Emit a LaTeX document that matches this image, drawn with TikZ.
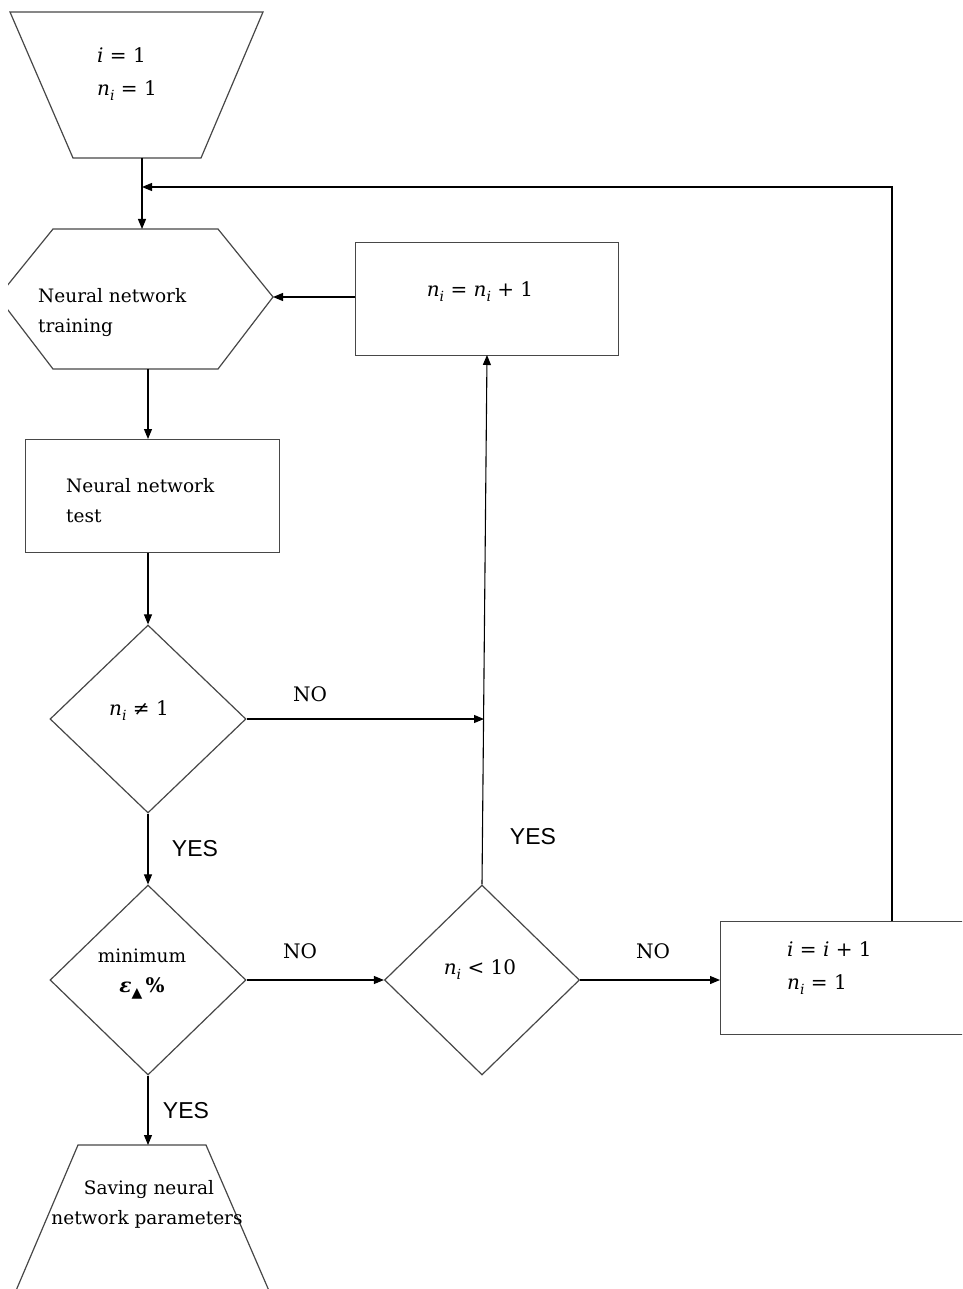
\documentclass[tikz,border=0pt]{standalone}
\usepackage{fontspec}
\setmainfont{DejaVu Serif}
\newfontfamily\labelsans{Liberation Sans}
\newfontfamily\symbfont{DejaVu Sans}
\usetikzlibrary{shapes.geometric,arrows.meta}

% italic variable with a lowered italic index
\newcommand\vr[1]{\textit{#1}}
\newcommand\idx[1]{\raisebox{-0.25em}{\fontsize{14}{14}\selectfont\itshape #1}}

\tikzset{
  outline/.style={draw=black!72, line width=1.2pt, fill=white},
  flow/.style={draw=black, line width=1.1pt, -{Triangle[length=10pt,width=8pt]}},
  txt/.style={font=\fontsize{18.5}{30}\selectfont, inner sep=0pt},
  mth/.style={font=\fontsize{20}{30}\selectfont, inner sep=0pt},
  nolbl/.style={font=\fontsize{20}{24}\selectfont, inner sep=0pt},
  yeslbl/.style={font=\labelsans\fontsize{23}{26}\selectfont, inner sep=0pt},
  boxnode/.style={outline, rectangle, inner sep=0pt, anchor=north west},
  decision/.style={outline, diamond, inner sep=0pt, minimum width=196pt}
}

\begin{document}
\begin{tikzpicture}[x=1pt,y=-1pt]
\useasboundingbox (0,0) rectangle (962,1289);
\clip (0,0) rectangle (962,1289);

% start block (inverted trapezium)
\draw[outline] (10,12) -- (263,12) -- (201,158) -- (73,158) -- cycle;
\node[mth, anchor=base west] (start1) at (97,63) {\vr{i} = 1};
\node[mth, anchor=base west] (start2) at (97,96) {\vr{n}\idx{i} = 1};
\coordinate (startB) at (142,158);

% training block (hexagon, its left tip cut off by the page edge)
\begin{scope}
\clip (8,200) rectangle (300,400);
\draw[outline] (-2,297) -- (53,229) -- (218,229) -- (273,297) -- (218,369) -- (53,369) -- cycle;
\end{scope}
\node[txt, anchor=base west] (train1) at (38,302) {Neural network};
\node[txt, anchor=base west] (train2) at (38,332) {training};
\coordinate (trainT) at (142,229);
\coordinate (trainE) at (273,297);
\coordinate (trainB) at (148,369);

% neuron counter increment
\node[boxnode, minimum width=263pt, minimum height=113pt] (nplus) at (355,242) {};
\node[mth, anchor=base] (nplusT) at (480,296) {\vr{n}\idx{i} = \vr{n}\idx{i} + 1};
\coordinate (nplusB) at (487,355);

% test block
\node[boxnode, minimum width=254pt, minimum height=113pt] (test) at (25,439) {};
\node[txt, anchor=base west] (test1) at (66,492) {Neural network};
\node[txt, anchor=base west] (test2) at (66,522) {test};
\coordinate (testT) at (148,439);

% decisions
\node[decision, minimum height=188pt] (d1) at (148,719) {};
\node[mth, anchor=base] (d1t) at (139,715) {\vr{n}\idx{i} ≠ 1};

\node[decision, minimum height=190pt] (d2) at (148,980) {};
\node[txt, anchor=base] (d2a) at (142,962) {minimum};
\node[mth, anchor=base] (d2b) at (142,992) {\textbf{\textit{ε}}\idx{\symbfont\upshape ▲}\,\textbf{\%}};

\node[decision, minimum width=195pt, minimum height=190pt] (d3) at (482,980) {};
\node[mth, anchor=base] (d3t) at (480,974) {\vr{n}\idx{i} < 10};

% next iteration block
\node[boxnode, minimum width=280pt, minimum height=113pt] (inc) at (720,921) {};
\node[mth, anchor=base west] (inc1) at (787,956) {\vr{i} = \vr{i} + 1};
\node[mth, anchor=base west] (inc2) at (787,989) {\vr{n}\idx{i} = 1};
\coordinate (incT) at (892,921);
\coordinate (loopC) at (892,187);
\coordinate (loopE) at (142,187);

% end block (trapezium)
\draw[outline] (78,1145) -- (206,1145) -- (273,1300) -- (12,1300) -- cycle;
\node[txt, anchor=base] (save1) at (149,1194) {Saving neural};
\node[txt, anchor=base] (save2) at (147,1224) {network parameters};
\coordinate (saveT) at (148,1145);

% joint on the vertical return line
\coordinate (joinP) at (484,719);

% connectors
\draw[flow] (startB) -- (trainT);
\draw[flow] (incT) -- (loopC) -- (loopE);
\draw[flow] (nplus.west |- trainE) -- (trainE);
\draw[flow] (trainB) -- (testT);
\draw[flow] (test.south -| d1.north) -- (d1.north);
\draw[flow] (d1.east) -- (joinP);
\draw[flow] (d3.north) -- (nplusB);
\draw[flow] (d1.south) -- (d2.north);
\draw[flow] (d2.east) -- (d3.west);
\draw[flow] (d3.east) -- (d3.east -| inc.west);
\draw[flow] (d2.south) -- (saveT);

% branch labels
\node[nolbl] (no1) at (310,694) {NO};
\node[nolbl] (no2) at (300,951) {NO};
\node[nolbl] (no3) at (653,951) {NO};
\node[yeslbl] (yes1) at (195,849) {YES};
\node[yeslbl] (yes2) at (533,837) {YES};
\node[yeslbl] (yes3) at (186,1111) {YES};
\end{tikzpicture}
\end{document}
